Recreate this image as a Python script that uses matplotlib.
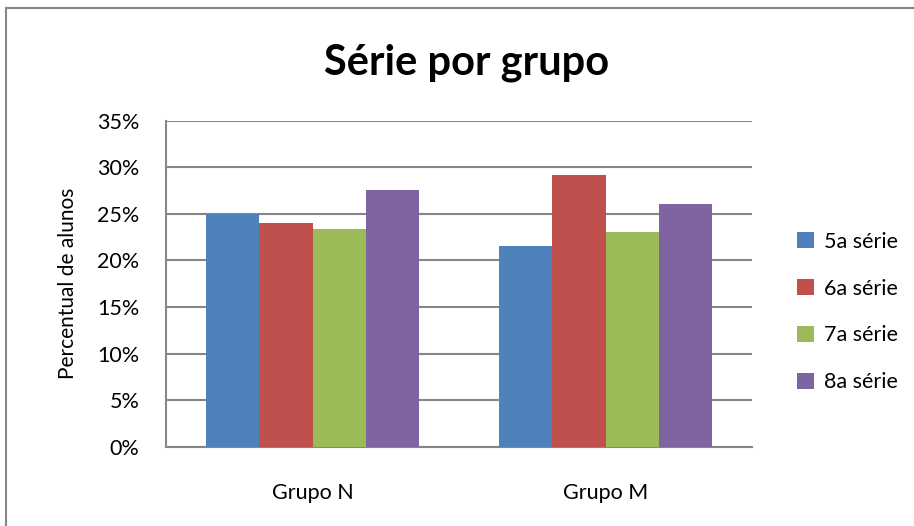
import numpy as np
import matplotlib.pyplot as plt
from matplotlib.patches import Rectangle
from matplotlib.ticker import FuncFormatter

plt.rcParams['font.family'] = ['Lato', 'DejaVu Sans']

grupos = ['Grupo N', 'Grupo M']
series = ['5a série', '6a série', '7a série', '8a série']
valores = [
    [25.0, 21.5],   # 5a série
    [24.0, 29.2],   # 6a série
    [23.4, 23.1],   # 7a série
    [27.5, 26.0],   # 8a série
]
cores = ['#4f81bd', '#c0504d', '#9bbb59', '#8064a2']

fig = plt.figure(figsize=(9.14, 5.26), dpi=100)
ax = fig.add_axes([166 / 914, 1 - 447 / 526, (752 - 166) / 914, (447 - 120.5) / 526])

# outer chart border (cut off at right and bottom like the original)
fig.patches.append(Rectangle((6 / 914, -0.1), 1.2, 1 - 8 / 526 + 0.1,
                             transform=fig.transFigure, fill=False,
                             edgecolor='#868686', linewidth=1.5))

x = np.arange(len(grupos))
w = 0.181
for i, (nome, vals) in enumerate(zip(series, valores)):
    ax.bar(x + (i - 1.5) * w, vals, width=w, color=cores[i], label=nome, zorder=3)

ax.set_xlim(-0.5, 1.5)
ax.set_ylim(0, 35)
ax.set_yticks(np.arange(0, 36, 5))
ax.yaxis.set_major_formatter(FuncFormatter(lambda v, p: f'{v:.0f}%'))
ax.set_xticks(x)
ax.set_xticklabels(grupos)
ax.grid(axis='y', color='#868686', linewidth=1.5, zorder=0)
for s in ['top', 'right']:
    ax.spines[s].set_visible(False)
for s in ['left', 'bottom']:
    ax.spines[s].set_color('#868686')
    ax.spines[s].set_linewidth(1.5)
ax.tick_params(length=0, labelsize=15.5, pad=19)
ax.tick_params(axis='x', pad=26)

ax.set_ylabel('Percentual de alunos', fontsize=15, labelpad=14)
fig.text(467 / 914, 1 - 63 / 526, 'Série por grupo', ha='center', va='center',
         fontsize=30, fontweight='bold')

ax.legend(loc='center left', bbox_to_anchor=(778 / 914, 1 - 312 / 526),
          bbox_transform=fig.transFigure, frameon=False, fontsize=15.5,
          handlelength=0.75, handleheight=0.75, labelspacing=1.25, handletextpad=0.5)

fig.savefig('out.png', dpi=100)
